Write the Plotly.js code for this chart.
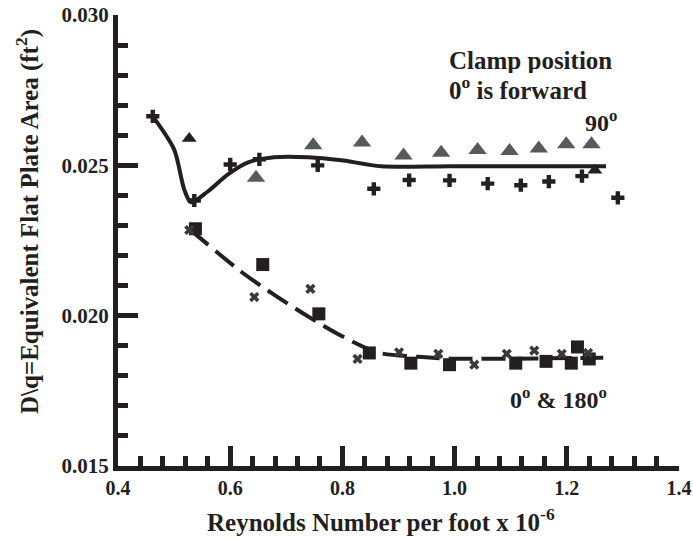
<!DOCTYPE html>
<html>
<head>
<meta charset="utf-8">
<script src="https://cdn.plot.ly/plotly-3.0.1.min.js"></script>
<style>html,body{margin:0;padding:0;background:#fff;}#chart{width:693px;height:540px;}</style>
</head>
<body>
<div id="chart"></div>
<script>
// 90 deg clamp position: plus markers
const plusX = [0.462, 0.536, 0.600, 0.652, 0.756, 0.856, 0.919, 0.991, 1.059, 1.118, 1.168, 1.227, 1.291];
const plusY = [0.02663, 0.02383, 0.02503, 0.02520, 0.02500, 0.02422, 0.02451, 0.02450, 0.02439, 0.02434, 0.02446, 0.02464, 0.02392];
// 90 deg: grey triangles
const greyTriX = [0.646, 0.748, 0.835, 0.909, 0.976, 1.041, 1.098, 1.150, 1.199, 1.244];
const greyTriY = [0.02459, 0.02567, 0.02576, 0.02533, 0.02542, 0.02551, 0.02548, 0.02556, 0.02570, 0.02570];
// 90 deg: black triangles
const blackTriX = [0.527, 1.250];
const blackTriY = [0.02589, 0.02484];
// 0 & 180 deg: squares
const sqX = [0.538, 0.658, 0.758, 0.848, 0.922, 0.991, 1.109, 1.163, 1.208, 1.219, 1.240];
const sqY = [0.02289, 0.02170, 0.02006, 0.01876, 0.01842, 0.01837, 0.01842, 0.01848, 0.01842, 0.01896, 0.01856];
// 0 & 180 deg: x markers
const xmX = [0.527, 0.643, 0.743, 0.827, 0.901, 0.971, 1.035, 1.093, 1.142, 1.191, 1.238];
const xmY = [0.02285, 0.02062, 0.02089, 0.01856, 0.01878, 0.01873, 0.01837, 0.01873, 0.01884, 0.01873, 0.01876];
// fitted curve, 90 deg (solid)
const fit90X = [0.462, 0.500, 0.518, 0.530, 0.560, 0.596, 0.632, 0.678, 0.739, 0.798, 0.869, 0.994, 1.270];
const fit90Y = [0.02663, 0.02553, 0.02420, 0.02377, 0.02413, 0.02470, 0.02510, 0.02527, 0.02527, 0.02517, 0.02497, 0.02497, 0.02497];
// fitted curve, 0 & 180 deg (dashed)
const fit0X = [0.528, 0.619, 0.678, 0.739, 0.798, 0.864, 0.935, 0.994, 1.265];
const fit0Y = [0.02287, 0.02147, 0.02070, 0.01997, 0.01933, 0.01877, 0.01863, 0.01857, 0.01860];
// tick labels
const xTickVals = [0.4, 0.6, 0.8, 1.0, 1.2, 1.4];
const xTickText = ['0.4', '0.6', '0.8', '1.0', '1.2', '1.4'];
const yTickVals = [0.015, 0.020, 0.025, 0.030];
const yTickText = ['0.015', '0.020', '0.025', '0.030'];

const ink = '#231f20';
const fontFam = '"Liberation Serif", "Times New Roman", serif';
const b = s => '<b>' + s + '</b>';

const traces = [
  {x: fit90X, y: fit90Y, mode: 'lines', line: {color: ink, width: 4, shape: 'spline', smoothing: 0.8}, hoverinfo: 'skip'},
  {x: fit0X, y: fit0Y, mode: 'lines', line: {color: ink, width: 4, shape: 'spline', smoothing: 0.8, dash: '24px,9px'}, hoverinfo: 'skip'},
  {x: greyTriX, y: greyTriY, mode: 'markers', marker: {symbol: 'triangle-up', size: 16, color: '#58595b'}},
  {x: blackTriX, y: blackTriY, mode: 'markers', marker: {symbol: 'triangle-up', size: 13, color: ink}},
  {x: plusX, y: plusY, mode: 'markers', marker: {symbol: 'cross', size: 11, color: ink}},
  {x: sqX, y: sqY, mode: 'markers', marker: {symbol: 'square', size: 13, color: ink}},
  {x: xmX, y: xmY, mode: 'markers', marker: {symbol: 'x', size: 9, color: '#3a3a3c'}}
];

const layout = {
  width: 693, height: 540,
  margin: {l: 118, r: 14, t: 15, b: 74},
  paper_bgcolor: '#fff', plot_bgcolor: '#fff',
  showlegend: false,
  font: {family: fontFam, color: ink},
  xaxis: {
    range: [0.4, 1.4], tickmode: 'array', tickvals: xTickVals, ticktext: xTickText.map(b),
    showgrid: false, zeroline: false,
    showline: true, linewidth: 5, linecolor: ink,
    ticks: 'inside', ticklen: 20, tickwidth: 5, tickcolor: ink,
    minor: {dtick: 0.04, tick0: 0.4, ticks: 'inside', ticklen: 10, tickwidth: 5, tickcolor: ink, showgrid: false},
    tickfont: {family: fontFam, size: 20, color: ink, weight: 'bold'}
  },
  yaxis: {
    range: [0.015, 0.030], tickmode: 'array', tickvals: yTickVals, ticktext: yTickText.map(b),
    showgrid: false, zeroline: false,
    showline: true, linewidth: 5, linecolor: ink,
    ticks: 'inside', ticklen: 20, tickwidth: 5, tickcolor: ink,
    minor: {dtick: 0.001, tick0: 0.015, ticks: 'inside', ticklen: 10, tickwidth: 5, tickcolor: ink, showgrid: false},
    tickfont: {family: fontFam, size: 21, color: ink, weight: 'bold'}
  },
  annotations: [
    {x: 0, y: 0, xref: 'paper', yref: 'paper', xanchor: 'center', yanchor: 'middle', showarrow: false,
     text: b('Reynolds Number per foot x 10<sup>-6</sup>'), font: {family: fontFam, size: 25, color: ink}},
    {x: 0, y: 0, xref: 'paper', yref: 'paper', xanchor: 'center', yanchor: 'middle', showarrow: false, textangle: -90,
     text: b('D\\q=Equivalent Flat Plate Area (ft<sup>2</sup>)'), font: {family: fontFam, size: 25, color: ink}},
    {x: 0.9865, y: 0.0285, xref: 'x', yref: 'y', xanchor: 'left', yanchor: 'middle', showarrow: false, height: 25,
     text: b('Clamp position'), font: {family: fontFam, size: 25, color: ink}},
    {x: 0.9865, y: 0.02758, xref: 'x', yref: 'y', xanchor: 'left', yanchor: 'middle', showarrow: false, height: 26,
     text: b('0<sup>o</sup> is forward'), font: {family: fontFam, size: 25, color: ink}},
    {x: 1.229, y: 0.02647, xref: 'x', yref: 'y', xanchor: 'left', yanchor: 'middle', showarrow: false,
     text: b('90<sup>o</sup>'), font: {family: fontFam, size: 24, color: ink}},
    {x: 1.095, y: 0.01726, xref: 'x', yref: 'y', xanchor: 'left', yanchor: 'middle', showarrow: false,
     text: b('0<sup>o</sup> &amp; 180<sup>o</sup>'), font: {family: fontFam, size: 24, color: ink}}
  ]
};
// place axis-title annotations (pixel centres) in paper fractions
const pw = 693 - 118 - 14, ph = 540 - 15 - 74;
layout.annotations[0].x = (381 - 118) / pw;
layout.annotations[0].y = -(520 - (540 - 74)) / ph;
layout.annotations[1].x = (27 - 118) / pw;
layout.annotations[1].y = ((540 - 74) - 222) / ph;

Plotly.newPlot('chart', traces, layout, {displayModeBar: false, staticPlot: true});
</script>
</body>
</html>
